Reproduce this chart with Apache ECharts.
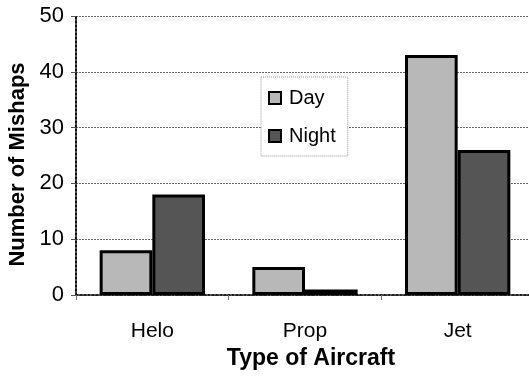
<!DOCTYPE html>
<html>
<head>
<meta charset="utf-8">
<script src="https://cdn.jsdelivr.net/npm/echarts@6/dist/echarts.min.js"></script>
<style>
  html, body { margin: 0; padding: 0; background: #fff; }
  #chart { width: 529px; height: 381px; }
</style>
</head>
<body>
<div id="chart"></div>
<script>
var categories = ['Helo', 'Prop', 'Jet'];
var dayValues = [8, 5, 43];
var nightValues = [18, 1, 26];
var yTicks = [0, 10, 20, 30, 40, 50];

var chart = echarts.init(document.getElementById('chart'));

var font = 'Liberation Sans, Arial, sans-serif';

var option = {
  animation: false,
  textStyle: { fontFamily: font },
  legend: {
    data: ['Day', 'Night'],
    orient: 'vertical',
    left: 261,
    top: 77,
    padding: [11, 12, 10, 7],
    itemGap: 18,
    itemWidth: 12,
    itemHeight: 12,
    icon: 'rect',
    backgroundColor: '#fff',
    borderColor: '#999',
    borderWidth: 1,
    borderType: 'dotted',
    textStyle: { fontFamily: font, fontSize: 20, color: '#000', padding: [0, 0, 0, 3] },
    itemStyle: { borderColor: '#000', borderWidth: 2 }
  },
  grid: {
    left: 76,
    width: 458,
    top: 16,
    bottom: 86,
    outerBoundsMode: 'none'
  },
  xAxis: {
    type: 'category',
    data: categories,
    name: 'Type of Aircraft',
    nameLocation: 'middle',
    nameGap: 49,
    nameTextStyle: { fontFamily: font, fontSize: 23, fontWeight: 'bold', color: '#000', padding: [0, 0, 0, 12] },
    axisLine: { show: true, lineStyle: { color: '#222', width: 2, type: 'dotted' } },
    axisTick: { show: true, length: 5, lineStyle: { color: '#777' } },
    axisLabel: { fontFamily: font, fontSize: 21, color: '#000', margin: 26 }
  },
  yAxis: {
    type: 'value',
    min: yTicks[0],
    max: yTicks[yTicks.length - 1],
    interval: 10,
    name: 'Number of Mishaps',
    nameLocation: 'middle',
    nameGap: 47,
    nameTextStyle: { fontFamily: font, fontSize: 22, fontWeight: 'bold', color: '#000', padding: [0, 18, 0, 0] },
    axisLine: { show: true, lineStyle: { color: '#111', width: 2, type: 'dotted' } },
    axisTick: { show: true, length: 5, inside: false, lineStyle: { color: '#555' } },
    axisLabel: { fontFamily: font, fontSize: 22, color: '#000', margin: 12 },
    splitLine: { show: true, lineStyle: { color: '#666', width: 1, type: [2, 1] } }
  },
  series: [
    {
      name: 'Day',
      type: 'bar',
      data: dayValues,
      barGap: '0%',
      barCategoryGap: '31%',
      itemStyle: { color: '#b8b8b8', borderColor: '#000', borderWidth: 3 }
    },
    {
      name: 'Night',
      type: 'bar',
      data: nightValues,
      itemStyle: { color: '#555555', borderColor: '#000', borderWidth: 3 }
    }
  ]
};

chart.setOption(option);
</script>
</body>
</html>
